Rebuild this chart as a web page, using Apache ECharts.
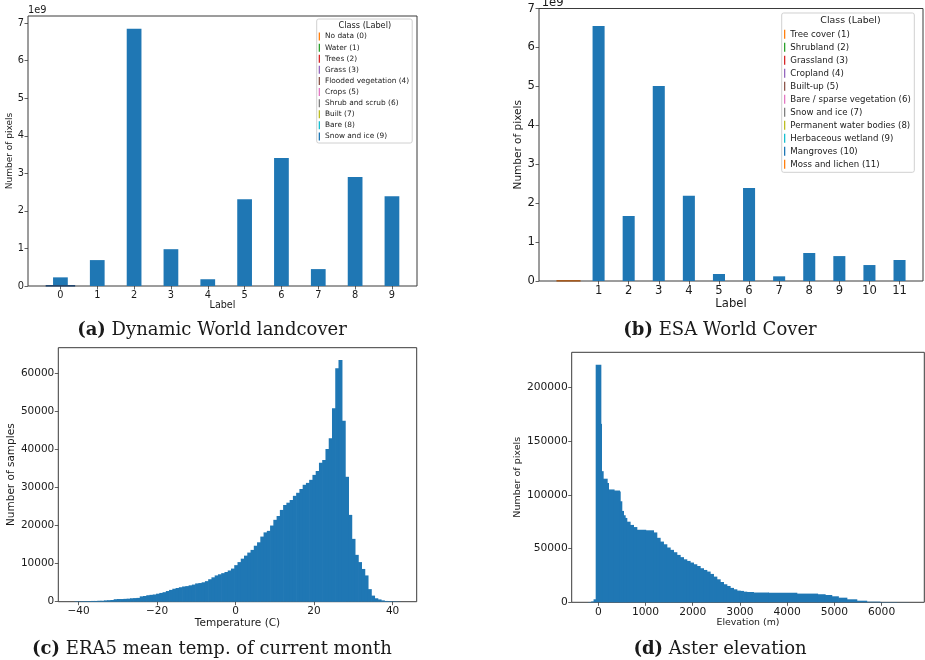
<!DOCTYPE html>
<html>
<head>
<meta charset="utf-8">
<script src="https://cdn.jsdelivr.net/npm/echarts@6/dist/echarts.min.js"></script>
<style>html,body{margin:0;padding:0;background:#fff}#c{width:925px;height:660px}</style>
</head>
<body>
<div id="c"></div>
<script>
// ---------- DATA ----------
// (a) Dynamic World landcover
const dwLabels = [0, 1, 2, 3, 4, 5, 6, 7, 8, 9];
const dwCounts = [0.23e9, 0.69e9, 6.85e9, 0.98e9, 0.18e9, 2.31e9, 3.41e9, 0.45e9, 2.90e9, 2.39e9];
const dwClasses = ['No data (0)', 'Water (1)', 'Trees (2)', 'Grass (3)', 'Flooded vegetation (4)',
  'Crops (5)', 'Shrub and scrub (6)', 'Built (7)', 'Bare (8)', 'Snow and ice (9)'];
const dwZeroLabels = [0];
const dwXTicks = [0, 1, 2, 3, 4, 5, 6, 7, 8, 9];
const dwYTicks = [0, 1e9, 2e9, 3e9, 4e9, 5e9, 6e9, 7e9];

// (b) ESA World Cover
const esaLabels = [1, 2, 3, 4, 5, 6, 7, 8, 9, 10, 11];
const esaCounts = [6.55e9, 1.67e9, 5.01e9, 2.19e9, 0.18e9, 2.39e9, 0.12e9, 0.72e9, 0.64e9, 0.41e9, 0.54e9];
const esaClasses = ['Tree cover (1)', 'Shrubland (2)', 'Grassland (3)', 'Cropland (4)', 'Built-up (5)',
  'Bare / sparse vegetation (6)', 'Snow and ice (7)', 'Permanent water bodies (8)',
  'Herbaceous wetland (9)', 'Mangroves (10)', 'Moss and lichen (11)'];
const esaZeroLabels = [0];
const esaXTicks = [1, 2, 3, 4, 5, 6, 7, 8, 9, 10, 11];
const esaYTicks = [0, 1e9, 2e9, 3e9, 4e9, 5e9, 6e9, 7e9];

// (c) ERA5 mean temperature histogram (100 bins)
const tempBinStart = -41.0;
const tempBinWidth = 0.83;
const tempCounts = [
  100, 100, 120, 150, 150, 200, 200, 250, 250, 350,
  400, 450, 650, 700, 700, 750, 800, 900, 950, 1000,
  1400, 1500, 1700, 1800, 1900, 2100, 2300, 2500, 2800, 3100,
  3400, 3600, 3800, 4000, 4100, 4300, 4500, 4800, 4900, 5100,
  5400, 5900, 6400, 6900, 7200, 7500, 7800, 8200, 8700, 9600,
  10400, 11300, 12100, 12900, 13600, 14700, 15600, 17100, 18200, 18600,
  20000, 21500, 22500, 24100, 25400, 26000, 26700, 27800, 28600, 29600,
  30700, 31200, 32000, 33300, 34300, 36500, 37200, 40100, 42900, 50800,
  61300, 63500, 47500, 32800, 22800, 16500, 12300, 10400, 8600, 6900,
  3300, 1600, 900, 600, 350, 200, 150, 100, 80, 50
];
const tempXTicks = [-40, -20, 0, 20, 40];
const tempYTicks = [0, 10000, 20000, 30000, 40000, 50000, 60000];

// (d) Aster elevation histogram (bin edges in m, counts per bin)
const elevEdges = [-220, -150, -100, -55, 50, 64, 99, 184, 212, 330, 445, 460, 494, 530, 565, 600, 670, 741,
  812, 1000, 1165, 1235, 1306, 1376, 1447, 1518, 1588, 1659, 1730, 1800, 1870, 1941, 2012, 2082, 2153, 2224,
  2294, 2365, 2435, 2506, 2577, 2647, 2718, 2788, 2859, 2930, 3000, 3070, 3140, 3282, 3600, 4200, 4640,
  4800, 4940, 5080, 5260, 5470, 5680, 5960, 6310, 6560];
const elevCounts = [300, 800, 2800, 221000, 166000, 122000, 115000, 111000, 105000, 104000, 103000, 94000,
  85000, 81000, 78500, 75000, 72000, 70000, 67500, 67000, 65000, 60000, 56500, 54000, 51000, 48800, 46600,
  44100, 42000, 40000, 38500, 37000, 35400, 33800, 31700, 30100, 28600, 26400, 23900, 21400, 18900, 16800,
  15200, 13400, 12100, 10900, 10600, 9900, 9600, 9100, 8900, 8100, 7500, 6800, 5600, 4300, 2800, 1500,
  600, 300, 100];
const elevXTicks = [0, 1000, 2000, 3000, 4000, 5000, 6000];
const elevYTicks = [0, 50000, 100000, 150000, 200000];

// ---------- STYLE ----------
const BLUE = '#1f77b4';
const TAB10 = ['#ff7f0e', '#2ca02c', '#d62728', '#9467bd', '#8c564b', '#e377c2', '#7f7f7f', '#bcbd22', '#17becf', '#1f77b4', '#ff7f0e'];
const FONT = 'DejaVu Sans';
const SERIF = 'DejaVu Serif';
const TXT = '#1a1a1a';
const FRAME = '#3a3a3a';

function fmtMinus(v) { return v < 0 ? '\u2212' + Math.abs(v) : String(v); }

function barRender(halfW) {
  return function (params, api) {
    const x = api.value(0), y = api.value(1);
    const p0 = api.coord([x - halfW, y]);
    const p1 = api.coord([x + halfW, 0]);
    return { type: 'rect', shape: { x: p0[0], y: p0[1], width: p1[0] - p0[0], height: p1[1] - p0[1] },
      style: { fill: BLUE } };
  };
}
function zeroRender(color) {
  return function (params, api) {
    const x = api.value(0);
    const p0 = api.coord([x - 0.4, 0]);
    const p1 = api.coord([x + 0.4, 0]);
    return { type: 'rect', shape: { x: p0[0], y: p0[1] - 1, width: p1[0] - p0[0], height: 1.6 },
      style: { fill: color } };
  };
}
function histRender(params, api) {
  const x0 = api.value(0), x1 = api.value(1), y = api.value(2);
  const p0 = api.coord([x0, y]);
  const p1 = api.coord([x1, 0]);
  return { type: 'rect', shape: { x: p0[0], y: p0[1], width: p1[0] - p0[0] + 0.7, height: p1[1] - p0[1] },
    style: { fill: BLUE } };
}

const tempData = tempCounts.map((c, i) => [tempBinStart + i * tempBinWidth, tempBinStart + (i + 1) * tempBinWidth, c]);
const elevData = elevCounts.map((c, i) => [elevEdges[i], elevEdges[i + 1], c]);

function xAxisCfg(idx, min, max, ticks, fs, name, nameGap, nameFs) {
  return {
    type: 'value', gridIndex: idx, min: min, max: max, splitLine: { show: false },
    axisLine: { show: false, onZero: false },
    axisTick: { show: true, length: 3.5, lineStyle: { color: FRAME, width: 0.8 }, customValues: ticks },
    axisLabel: { customValues: ticks, formatter: fmtMinus, fontFamily: FONT, fontSize: fs, color: TXT, margin: 4 },
    name: name, nameLocation: 'middle', nameGap: nameGap,
    nameTextStyle: { fontFamily: FONT, fontSize: nameFs, color: TXT }
  };
}
function yAxisCfg(idx, max, ticks, fs, fmt, name, nameGap, nameFs) {
  return {
    type: 'value', gridIndex: idx, min: 0, max: max, splitLine: { show: false },
    axisLine: { show: false, onZero: false },
    axisTick: { show: true, length: 3.5, lineStyle: { color: FRAME, width: 0.8 }, customValues: ticks },
    axisLabel: { customValues: ticks, formatter: fmt, fontFamily: FONT, fontSize: fs, color: TXT, margin: 4 },
    name: name, nameLocation: 'middle', nameGap: nameGap,
    nameTextStyle: { fontFamily: FONT, fontSize: nameFs, color: TXT }
  };
}

const gridBase = { show: true, borderColor: FRAME, borderWidth: 1, backgroundColor: '#fff', containLabel: false };

const legendSeries = [];
dwClasses.forEach((n, i) => legendSeries.push({ type: 'line', name: n, data: [], xAxisIndex: 0, yAxisIndex: 0, color: TAB10[i], silent: true }));
esaClasses.forEach((n, i) => legendSeries.push({ type: 'line', name: n, data: [], xAxisIndex: 1, yAxisIndex: 1, color: TAB10[i], silent: true }));

const option = {
  animation: false,
  backgroundColor: '#fff',
  grid: [
    Object.assign({ left: 28, top: 16, width: 389, height: 270 }, gridBase),
    Object.assign({ left: 539, top: 8.5, width: 384, height: 272.5 }, gridBase),
    Object.assign({ left: 58.3, top: 347.7, width: 358.4, height: 254 }, gridBase),
    Object.assign({ left: 571.7, top: 352.3, width: 352.6, height: 250 }, gridBase)
  ],
  xAxis: [
    xAxisCfg(0, -0.88, 9.68, dwXTicks, 9.8, 'Label', 13, 9.6),
    xAxisCfg(1, -0.98, 11.78, esaXTicks, 11.6, 'Label', 15.5, 11.6),
    xAxisCfg(2, -45.15, 46.15, tempXTicks, 10.5, 'Temperature (C)', 15.5, 10.5),
    xAxisCfg(3, -563, 6904, elevXTicks, 10.7, 'Elevation (m)', 15.5, 9.4)
  ],
  yAxis: [
    yAxisCfg(0, 7.19e9, dwYTicks, 9.8, v => String(v / 1e9), 'Number of pixels', 11.5, 9),
    yAxisCfg(1, 7.0e9, esaYTicks, 11.6, v => String(v / 1e9), 'Number of pixels', 13.5, 10.5),
    yAxisCfg(2, 66700, tempYTicks, 10.5, v => String(v), 'Number of samples', 40.5, 10.5),
    yAxisCfg(3, 232600, elevYTicks, 10.7, v => String(v), 'Number of pixels', 46.5, 9.5)
  ],
  legend: [
    {
      data: dwClasses, orient: 'vertical', left: 316.7, top: 19,
      icon: 'rect', itemWidth: 1.3, itemHeight: 8, itemGap: 0, itemTextGap: 5,
      padding: [12, 3, 1, 2], backgroundColor: '#fff', borderColor: '#d0d0d0', borderWidth: 1, borderRadius: 2,
      textStyle: { fontFamily: FONT, fontSize: 7.4, color: TXT, lineHeight: 11.1 },
      selectedMode: false
    },
    {
      data: esaClasses, orient: 'vertical', left: 781.7, top: 13,
      icon: 'rect', itemWidth: 1.3, itemHeight: 9, itemGap: 0, itemTextGap: 6,
      padding: [14.8, 3.5, 1.5, 2.3], backgroundColor: '#fff', borderColor: '#d0d0d0', borderWidth: 1, borderRadius: 2,
      textStyle: { fontFamily: FONT, fontSize: 8.6, color: TXT, lineHeight: 13 },
      selectedMode: false
    }
  ],
  series: [
    { type: 'custom', name: 'dwBars', xAxisIndex: 0, yAxisIndex: 0, renderItem: barRender(0.2),
      data: dwLabels.map((l, i) => [l, dwCounts[i]]), encode: { x: 0, y: 1 }, silent: true },
    { type: 'custom', name: 'dwZero', xAxisIndex: 0, yAxisIndex: 0, renderItem: zeroRender('#23476e'),
      data: dwZeroLabels.map(l => [l, 0]), encode: { x: 0, y: 1 }, silent: true },
    { type: 'custom', name: 'esaBars', xAxisIndex: 1, yAxisIndex: 1, renderItem: barRender(0.2),
      data: esaLabels.map((l, i) => [l, esaCounts[i]]), encode: { x: 0, y: 1 }, silent: true },
    { type: 'custom', name: 'esaZero', xAxisIndex: 1, yAxisIndex: 1, renderItem: zeroRender('#a65a1e'),
      data: esaZeroLabels.map(l => [l, 0]), encode: { x: 0, y: 1 }, silent: true },
    { type: 'custom', name: 'tempHist', xAxisIndex: 2, yAxisIndex: 2, renderItem: histRender,
      data: tempData, encode: { x: [0, 1], y: 2 }, silent: true },
    { type: 'custom', name: 'elevHist', xAxisIndex: 3, yAxisIndex: 3, renderItem: histRender,
      data: elevData, encode: { x: [0, 1], y: 2 }, silent: true }
  ].concat(legendSeries),
  graphic: [
    { type: 'text', left: 28, top: 5.5, style: { text: '1e9', font: '9.8px "DejaVu Sans"', fill: TXT } },
    { type: 'text', left: 541.7, top: -3, style: { text: '1e9', font: '11.6px "DejaVu Sans"', fill: TXT } },
    { type: 'text', x: 364.8, y: 26, style: { text: 'Class (Label)', font: '8.2px "DejaVu Sans"', fill: TXT, align: 'center', verticalAlign: 'middle' }, z: 100 },
    { type: 'text', x: 850.5, y: 20.8, style: { text: 'Class (Label)', font: '9.4px "DejaVu Sans"', fill: TXT, align: 'center', verticalAlign: 'middle' }, z: 100 },
    { type: 'text', x: 212, y: 330.5, style: { text: '{b|(a)} Dynamic World landcover', font: '18px "DejaVu Serif"', fill: '#1a1a1a', align: 'center', verticalAlign: 'middle',
      rich: { b: { fontWeight: 'bold', fontFamily: SERIF, fontSize: 18 } } } },
    { type: 'text', x: 720, y: 330.5, style: { text: '{b|(b)} ESA World Cover', font: '18px "DejaVu Serif"', fill: '#1a1a1a', align: 'center', verticalAlign: 'middle',
      rich: { b: { fontWeight: 'bold', fontFamily: SERIF, fontSize: 18 } } } },
    { type: 'text', x: 212, y: 649, style: { text: '{b|(c)} ERA5 mean temp. of current month', font: '18px "DejaVu Serif"', fill: '#1a1a1a', align: 'center', verticalAlign: 'middle',
      rich: { b: { fontWeight: 'bold', fontFamily: SERIF, fontSize: 18 } } } },
    { type: 'text', x: 720, y: 649, style: { text: '{b|(d)} Aster elevation', font: '18px "DejaVu Serif"', fill: '#1a1a1a', align: 'center', verticalAlign: 'middle',
      rich: { b: { fontWeight: 'bold', fontFamily: SERIF, fontSize: 18 } } } }
  ]
};

const chart = echarts.init(document.getElementById('c'), null, { renderer: 'canvas' });
chart.setOption(option);
</script>
</body>
</html>
